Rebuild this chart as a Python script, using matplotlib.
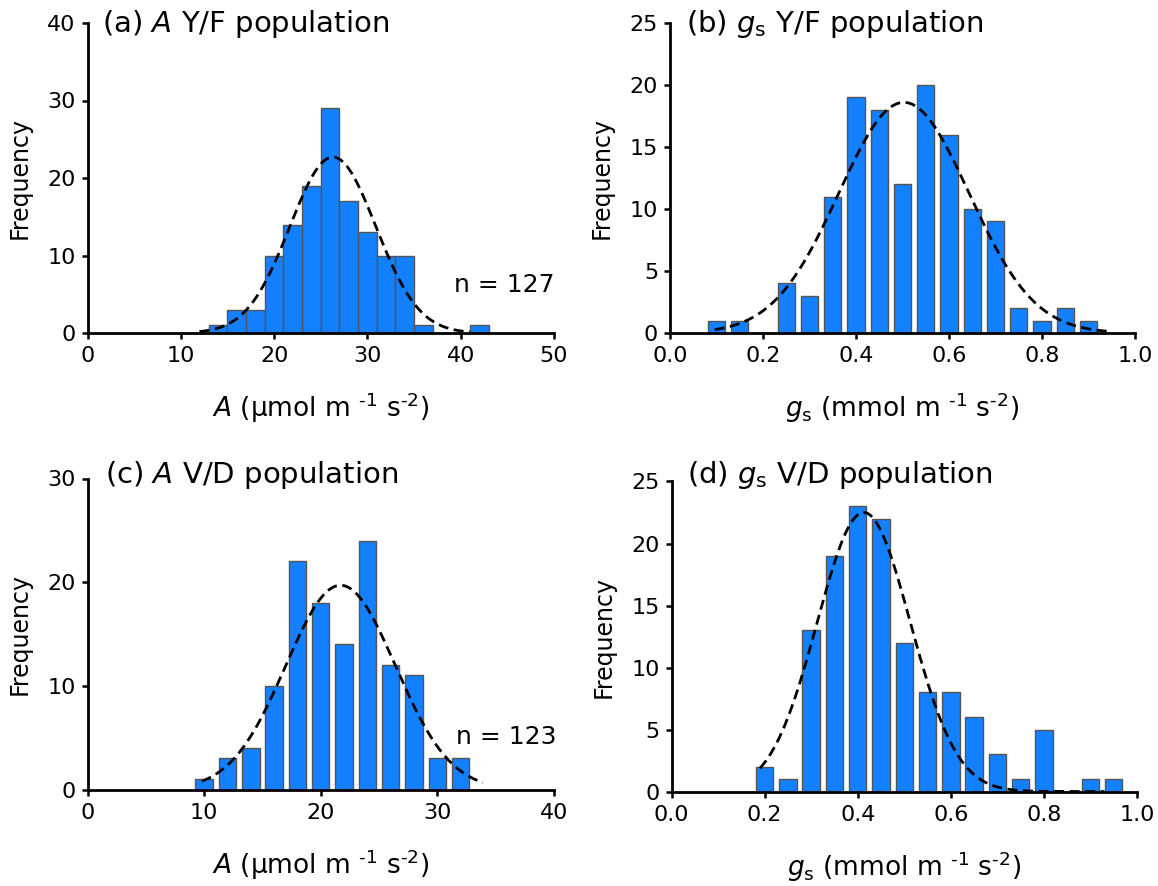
import numpy as np
import matplotlib
matplotlib.use("Agg")
import matplotlib.pyplot as plt

plt.rcParams["font.family"] = ["DejaVu Sans"]
plt.rcParams["mathtext.fontset"] = "dejavusans"

# ---- data -------------------------------------------------------------
# (a) A, Y/F population (bin width 2)
a_centers = [14, 16, 18, 20, 22, 24, 26, 28, 30, 32, 34, 36, 42]
a_counts = [1, 3, 3, 10, 14, 19, 29, 17, 13, 10, 10, 1, 1]
a_fit = dict(mu=26.3, sd=4.6, peak=22.7, lo=12.0, hi=41.0)

# (b) gs, Y/F population (bin width 0.05)
b_centers = [0.10, 0.15, 0.20, 0.25, 0.30, 0.35, 0.40, 0.45, 0.50,
             0.55, 0.60, 0.65, 0.70, 0.75, 0.80, 0.85, 0.90]
b_counts = [1, 1, 0, 4, 3, 11, 19, 18, 12, 20, 16, 10, 9, 2, 1, 2, 1]
b_fit = dict(mu=0.503, sd=0.14, peak=18.6, lo=0.096, hi=0.95)

# (c) A, V/D population (bin width 2)
c_centers = [10, 12, 14, 16, 18, 20, 22, 24, 26, 28, 30, 32]
c_counts = [1, 3, 4, 10, 22, 18, 14, 24, 12, 11, 3, 3]
c_fit = dict(mu=21.7, sd=4.7, peak=19.7, lo=9.8, hi=33.9)

# (d) gs, V/D population (bin width 0.05)
d_centers = [0.20, 0.25, 0.30, 0.35, 0.40, 0.45, 0.50, 0.55, 0.60,
             0.65, 0.70, 0.75, 0.80, 0.85, 0.90, 0.95]
d_counts = [2, 1, 13, 19, 23, 22, 12, 8, 8, 6, 3, 1, 5, 0, 1, 1]
d_fit = dict(mu=0.413, sd=0.10, peak=22.5, lo=0.19, hi=0.93)

a_title = r"(a) $\it{A}$ Y/F population"
b_title = r"(b) $\it{g}_\mathrm{s}$ Y/F population"
c_title = r"(c) $\it{A}$ V/D population"
d_title = r"(d) $\it{g}_\mathrm{s}$ V/D population"
a_xlabel = "$\\it{A}$ (μmol m $^{\u20101}$ s$^{\u20102}$)"
g_xlabel = "$\\it{g}_\\mathrm{s}$ (mmol m $^{\u20101}$ s$^{\u20102}$)"

BAR_COLOR = "#1280ff"
EDGE_COLOR = "#555555"

W, H = 1158, 886
fig = plt.figure(figsize=(W / 100, H / 100), dpi=100)


def px_axes(x0, x1, y_top, y_bot):
    return fig.add_axes([x0 / W, 1 - y_bot / H, (x1 - x0) / W, (y_bot - y_top) / H])


def panel(ax, centers, counts, width, fit, xlim, xticks, xfmt, ylim, yticks,
          title, title_xy, xlabel, ylabel_x, n_text=None, n_xy=None):
    ax.bar(centers, counts, width=width, color=BAR_COLOR,
           edgecolor=EDGE_COLOR, linewidth=1.0, zorder=2)
    xs = np.linspace(fit["lo"], fit["hi"], 300)
    ys = fit["peak"] * np.exp(-0.5 * ((xs - fit["mu"]) / fit["sd"]) ** 2)
    ax.plot(xs, ys, color="black", lw=2.0, linestyle=(0, (3.6, 2.0)),
            zorder=3, clip_on=False)
    ax.set_xlim(*xlim)
    ax.set_ylim(*ylim)
    ax.set_xticks(xticks)
    ax.set_xticklabels([xfmt.format(v) for v in xticks])
    ax.set_yticks(yticks)
    for side in ("top", "right"):
        ax.spines[side].set_visible(False)
    for side in ("left", "bottom"):
        ax.spines[side].set_linewidth(2.0)
        ax.spines[side].set_zorder(4)
    ax.tick_params(direction="out", length=4.5, width=1.8, labelsize=16,
                   pad=4, color="black")
    ax.tick_params(axis="x", pad=5)
    ax.text(title_xy[0], title_xy[1], title, transform=ax.transAxes,
            fontsize=21, ha="left", va="baseline")
    ax.text(0.5, -0.272, xlabel, transform=ax.transAxes, fontsize=19,
            ha="center", va="baseline")
    ax.text(ylabel_x, 0.5, "Frequency", transform=ax.transAxes, fontsize=17,
            rotation=90, ha="center", va="center")
    if n_text:
        ax.text(n_xy[0], n_xy[1], n_text, fontsize=18, ha="right", va="baseline")


ax_a = px_axes(87.5, 554, 23, 333)
ax_b = px_axes(670, 1135, 23, 333)
ax_c = px_axes(87.5, 554, 478.5, 789.5)
ax_d = px_axes(671.5, 1137, 481.5, 791.5)

panel(ax_a, a_centers, a_counts, 2.0, a_fit, (0, 50), [0, 10, 20, 30, 40, 50], "{:g}",
      (0, 40), [0, 10, 20, 30, 40], a_title, (0.032, 0.971), a_xlabel, -0.145,
      "n = 127", (50.1, 5.3))
panel(ax_b, b_centers, b_counts, 0.0375, b_fit, (0, 1.0),
      [0.0, 0.2, 0.4, 0.6, 0.8, 1.0], "{:.1f}",
      (0, 25), [0, 5, 10, 15, 20, 25], b_title, (0.034, 0.971), g_xlabel, -0.146)
panel(ax_c, c_centers, c_counts, 1.5, c_fit, (0, 40), [0, 10, 20, 30, 40], "{:g}",
      (0, 30), [0, 10, 20, 30], c_title, (0.038, 0.985), a_xlabel, -0.145,
      "n = 123", (40.2, 4.4))
panel(ax_d, d_centers, d_counts, 0.0375, d_fit, (0, 1.0),
      [0.0, 0.2, 0.4, 0.6, 0.8, 1.0], "{:.1f}",
      (0, 25), [0, 5, 10, 15, 20, 25], d_title, (0.034, 0.996), g_xlabel, -0.146)

fig.savefig("out.png", dpi=100, facecolor="white")
